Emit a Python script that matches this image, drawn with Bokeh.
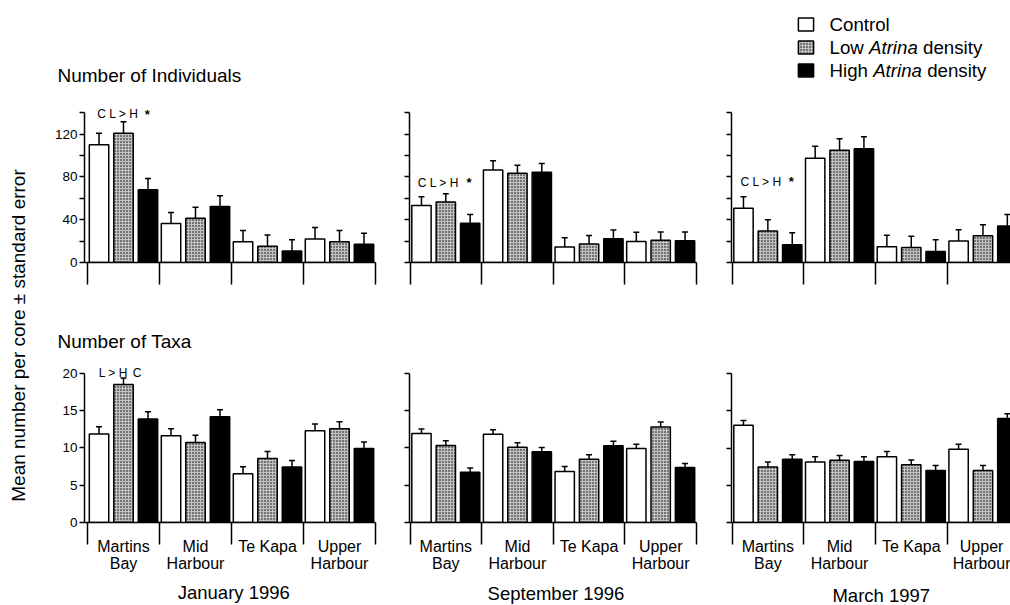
import math
import numpy as np
from bokeh.plotting import figure
from bokeh.models import Range1d, FixedTicker, Label, Legend, LegendItem
from bokeh.layouts import row, column
from bokeh.embed import file_html
from bokeh.resources import INLINE

FONT = "Liberation Sans"

# ---------------- data ----------------
sites = ["Martins\nBay", "Mid\nHarbour", "Te Kapa", "Upper\nHarbour"]
treatments = ["Control", "Low Atrina density", "High Atrina density"]
italic_word = "Atrina"
months = ["January 1996", "September 1996", "March 1997"]
row_titles = ["Number of Individuals", "Number of Taxa"]
y_title = "Mean number per core \u00b1 standard error"

ind_ticks = [0, 20, 40, 60, 80, 100, 120, 140]
ind_tick_labels = ["0", "", "40", "", "80", "", "120", ""]
taxa_ticks = [0, 5, 10, 15, 20]
taxa_tick_labels = ["0", "5", "10", "15", "20"]

# Number of individuals: mean per core
ind_jan_control = [110.2, 36.4, 19.4, 21.9]
ind_jan_low = [120.9, 41.3, 15.1, 19.4]
ind_jan_high = [68.0, 52.3, 10.8, 17.0]
ind_jan_control_se = [10.7, 10.4, 10.5, 10.8]
ind_jan_low_se = [10.6, 10.4, 10.7, 10.5]
ind_jan_high_se = [10.5, 10.2, 10.4, 10.4]

ind_sep_control = [53.2, 86.4, 14.4, 19.7]
ind_sep_low = [56.6, 83.4, 17.2, 20.9]
ind_sep_high = [36.6, 84.3, 22.2, 20.3]
ind_sep_control_se = [8.3, 8.7, 8.7, 8.5]
ind_sep_low_se = [7.6, 7.6, 8.0, 7.7]
ind_sep_high_se = [8.3, 8.3, 8.3, 8.3]

ind_mar_control = [50.8, 97.5, 14.8, 20.0]
ind_mar_low = [29.5, 104.9, 14.1, 24.9]
ind_mar_high = [16.6, 106.4, 10.2, 34.2]
ind_mar_control_se = [10.7, 11.1, 10.7, 10.7]
ind_mar_low_se = [10.5, 10.8, 10.5, 10.5]
ind_mar_high_se = [11.1, 11.1, 11.0, 10.7]

# Number of taxa: mean per core
taxa_jan_control = [11.87, 11.65, 6.53, 12.32]
taxa_jan_low = [18.53, 10.72, 8.59, 12.59]
taxa_jan_high = [13.87, 14.19, 7.43, 9.92]
taxa_jan_control_se = [0.98, 0.94, 0.94, 0.88]
taxa_jan_low_se = [0.86, 0.97, 0.93, 0.93]
taxa_jan_high_se = [0.98, 0.93, 0.89, 0.88]

taxa_sep_control = [11.93, 11.84, 6.84, 9.93]
taxa_sep_low = [10.33, 10.11, 8.47, 12.82]
taxa_sep_high = [6.74, 9.49, 10.29, 7.37]
taxa_sep_control_se = [0.62, 0.62, 0.66, 0.57]
taxa_sep_low_se = [0.63, 0.58, 0.63, 0.66]
taxa_sep_high_se = [0.57, 0.58, 0.61, 0.53]

taxa_mar_control = [13.05, 8.13, 8.83, 9.85]
taxa_mar_low = [7.47, 8.35, 7.74, 6.99]
taxa_mar_high = [8.48, 8.20, 6.99, 13.97]
taxa_mar_control_se = [0.65, 0.70, 0.70, 0.66]
taxa_mar_low_se = [0.66, 0.65, 0.66, 0.66]
taxa_mar_high_se = [0.62, 0.63, 0.66, 0.63]

# significance notes: (row, col, text)
notes_text = [(0, 0, "C L > H"), (0, 0, "*"),
              (0, 1, "C L > H"), (0, 1, "*"),
              (0, 2, "C L > H"), (0, 2, "*"),
              (1, 0, "L > H"), (1, 0, "C")]

panel_means = [
    [[ind_jan_control, ind_jan_low, ind_jan_high],
     [ind_sep_control, ind_sep_low, ind_sep_high],
     [ind_mar_control, ind_mar_low, ind_mar_high]],
    [[taxa_jan_control, taxa_jan_low, taxa_jan_high],
     [taxa_sep_control, taxa_sep_low, taxa_sep_high],
     [taxa_mar_control, taxa_mar_low, taxa_mar_high]],
]
panel_ses = [
    [[ind_jan_control_se, ind_jan_low_se, ind_jan_high_se],
     [ind_sep_control_se, ind_sep_low_se, ind_sep_high_se],
     [ind_mar_control_se, ind_mar_low_se, ind_mar_high_se]],
    [[taxa_jan_control_se, taxa_jan_low_se, taxa_jan_high_se],
     [taxa_sep_control_se, taxa_sep_low_se, taxa_sep_high_se],
     [taxa_mar_control_se, taxa_mar_low_se, taxa_mar_high_se]],
]
row_ticks = [(ind_ticks, ind_tick_labels), (taxa_ticks, taxa_tick_labels)]

# ---------------- layout / styles ----------------
TOTAL_W, TOTAL_H = 1010, 605
YT_W = 38
BLOCK_W = TOTAL_W - YT_W
HEAD_H, MID_H, FOOT_H = 95, 52, 27
COLS = [dict(width=352, left=46, right=15, x0=-0.0417, x1=4.0),
        dict(width=322, left=19, right=16, x0=-0.007, x1=4.0),
        dict(width=298, left=19, right=0, x0=-0.007, x1=3.884)]
# per column: top border, frame height (px), px per data unit
ROWS = [dict(height=205, tops=[9, 9, 11], frames=[158, 158, 158],
             ppu=[1.0833, 1.0833, 1.0833]),
        dict(height=226, tops=[9, 10, 10], frames=[161, 161, 163],
             ppu=[7.5, 7.5, 7.585])]

# note positions (x in group units, y = vertical centre of the text in data units)
notes_pos = [(0.135, 138.8), (0.796, 138.8),
             (0.109, 74.4), (0.788, 74.4),
             (0.119, 75.6), (0.790, 75.6),
             (0.157, 20.1), (0.629, 20.1)]

bar_offsets = [-0.34, 0.0, 0.34]
bar_width = 0.27
bar_styles = [dict(fill_color="white"),
              dict(fill_color="#c2c2c2", hatch_pattern="dot", hatch_color="black",
                   hatch_scale=3, hatch_weight=1.2),
              dict(fill_color="black")]

ADV = {" ": .278, "A": .667, "C": .722, "H": .722, "L": .556, "a": .556, "c": .5,
       "d": .556, "e": .556, "g": .556, "h": .556, "i": .222, "l": .222, "n": .556,
       "o": .556, "r": .333, "s": .5, "t": .278, "w": .722, "y": .5}


def tw(s, size):
    return sum(ADV.get(ch, 0.556) for ch in s) * size


def text_fig(w, h):
    f = figure(width=w, height=h, x_range=Range1d(0, w), y_range=Range1d(0, h),
               min_border=0, min_border_left=0, min_border_right=0,
               min_border_top=0, min_border_bottom=0,
               x_axis_type=None, y_axis_type=None,
               output_backend="svg", toolbar_location=None)
    f.outline_line_color = None
    f.background_fill_color = "white"
    f.border_fill_color = "white"
    return f


def lab(text, x, y, size, align="left", style="normal", angle=0.0):
    # y is the vertical centre of the text
    return Label(x=x, y=y, text=text, text_font=FONT, text_font_size=f"{size}px",
                 text_align=align, text_baseline="middle", text_font_style=style,
                 angle=angle, text_color="black")


centers = np.arange(len(sites)) + 0.5
bounds = np.arange(len(sites) + 1)

figs = [[None] * 3 for _ in range(2)]
for r in range(2):
    R = ROWS[r]
    ticks, labs = row_ticks[r]
    for c in range(3):
        G = COLS[c]
        ymax = R["frames"][c] / R["ppu"][c]
        p = figure(width=G["width"], height=R["height"],
                   x_range=Range1d(G["x0"], G["x1"]), y_range=Range1d(0, ymax),
                   min_border_left=G["left"], min_border_right=G["right"],
                   min_border_top=R["tops"][c],
                   min_border_bottom=R["height"] - R["tops"][c] - R["frames"][c],
                   output_backend="svg", toolbar_location=None)
        p.outline_line_color = None
        p.xgrid.grid_line_color = None
        p.ygrid.grid_line_color = None
        p.background_fill_color = "white"
        p.border_fill_color = "white"

        for k in range(3):
            xs = centers + bar_offsets[k]
            top = np.array(panel_means[r][c][k])
            up = top + np.array(panel_ses[r][c][k])
            p.segment(x0=xs, y0=top, x1=xs, y1=up, line_color="black", line_width=1.5)
            p.scatter(x=xs, y=up, marker="dash", size=6, line_color="black", line_width=1.5)
            p.vbar(x=xs, top=top, bottom=0, width=bar_width,
                   line_color="black", line_width=1.5, **bar_styles[k])

        xa = p.xaxis[0]
        xa.ticker = FixedTicker(ticks=[float(v) for v in centers],
                                minor_ticks=[float(v) for v in bounds])
        xa.major_tick_in = 0
        xa.major_tick_out = 0
        xa.minor_tick_in = 0
        xa.minor_tick_out = 22
        xa.minor_tick_line_width = 1.5
        xa.minor_tick_line_color = "black"
        xa.axis_line_width = 1.5
        xa.axis_line_color = "black"
        xa.major_label_overrides = {float(cx): (sites[i] if r == 1 else "")
                                    for i, cx in enumerate(centers)}
        xa.major_label_text_font = FONT
        xa.major_label_text_color = "black"
        xa.major_label_text_line_height = 1.0
        if r == 1:
            xa.major_label_text_font_size = "16px"
            xa.major_label_standoff = -7
        else:
            xa.major_label_text_font_size = "1px"
            xa.major_label_standoff = 0

        ya = p.yaxis[0]
        ya.ticker = FixedTicker(ticks=ticks)
        ya.bounds = (ticks[0], ticks[-1])
        ya.major_label_overrides = {t: (lb if c == 0 else "") for t, lb in zip(ticks, labs)}
        ya.major_tick_out = 5
        ya.major_tick_in = 0
        ya.minor_tick_out = 0
        ya.minor_tick_in = 0
        ya.major_tick_line_width = 1.5
        ya.axis_line_width = 1.5
        ya.major_label_standoff = 2
        ya.major_label_text_font = FONT
        ya.major_label_text_font_size = "13.5px"
        ya.major_label_text_color = "black"
        figs[r][c] = p

# significance notes
for (r, c, txt), (nx, ny) in zip(notes_text, notes_pos):
    star = txt == "*"
    figs[r][c].add_layout(lab(txt, nx, ny, 13 if star else 12,
                              style="bold" if star else "normal"))

# header: legend + first row title
head = text_fig(BLOCK_W, HEAD_H)
head.add_layout(lab(row_titles[0], 19, HEAD_H - 75, 19))
hidden = []
for k in range(3):
    rr = head.vbar(x=centers + bar_offsets[k], top=panel_means[0][0][k], bottom=0,
                   width=bar_width, line_color="black", line_width=1.5, **bar_styles[k])
    rr.visible = False
    hidden.append(rr)
items = [LegendItem(label="", renderers=[hidden[k]]) for k in range(3)]
leg = Legend(items=items, location=(758, 17), orientation="vertical",
             glyph_width=19, glyph_height=16, spacing=7, padding=0, margin=0,
             label_standoff=0, label_width=0, label_height=16,
             label_text_font_size="1px", border_line_color=None,
             background_fill_alpha=0, click_policy="none")
head.add_layout(leg)
LEG_FS = 18.7
leg_mid = [HEAD_H - 24, HEAD_H - 47, HEAD_H - 70]
for k, t in enumerate(treatments):
    xpos = 0.0
    for w in t.split(" "):
        head.add_layout(lab(w, 791 + xpos, leg_mid[k], LEG_FS,
                            style="italic" if w == italic_word else "normal"))
        xpos += tw(w + " ", LEG_FS)

# middle strip: second row title
mid = text_fig(BLOCK_W, MID_H)
mid.add_layout(lab(row_titles[1], 19, MID_H - 40.7, 19))

# footer: sampling dates
foot = text_fig(BLOCK_W, FOOT_H)
month_x = [195.3, 517.5, 842.8]
month_y = [13.3, 12.0, 10.0]
for c in range(3):
    foot.add_layout(lab(months[c], month_x[c], month_y[c], 18.5, align="center"))

# y-axis title
yt = text_fig(YT_W, TOTAL_H)
yt.add_layout(lab(y_title, 18, TOTAL_H - 335, 19, align="center", angle=math.pi / 2))

layout = row(yt, column(head, row(*figs[0]), mid, row(*figs[1]), foot))

with open("out.html", "w") as f:
    f.write(file_html(layout, INLINE))
